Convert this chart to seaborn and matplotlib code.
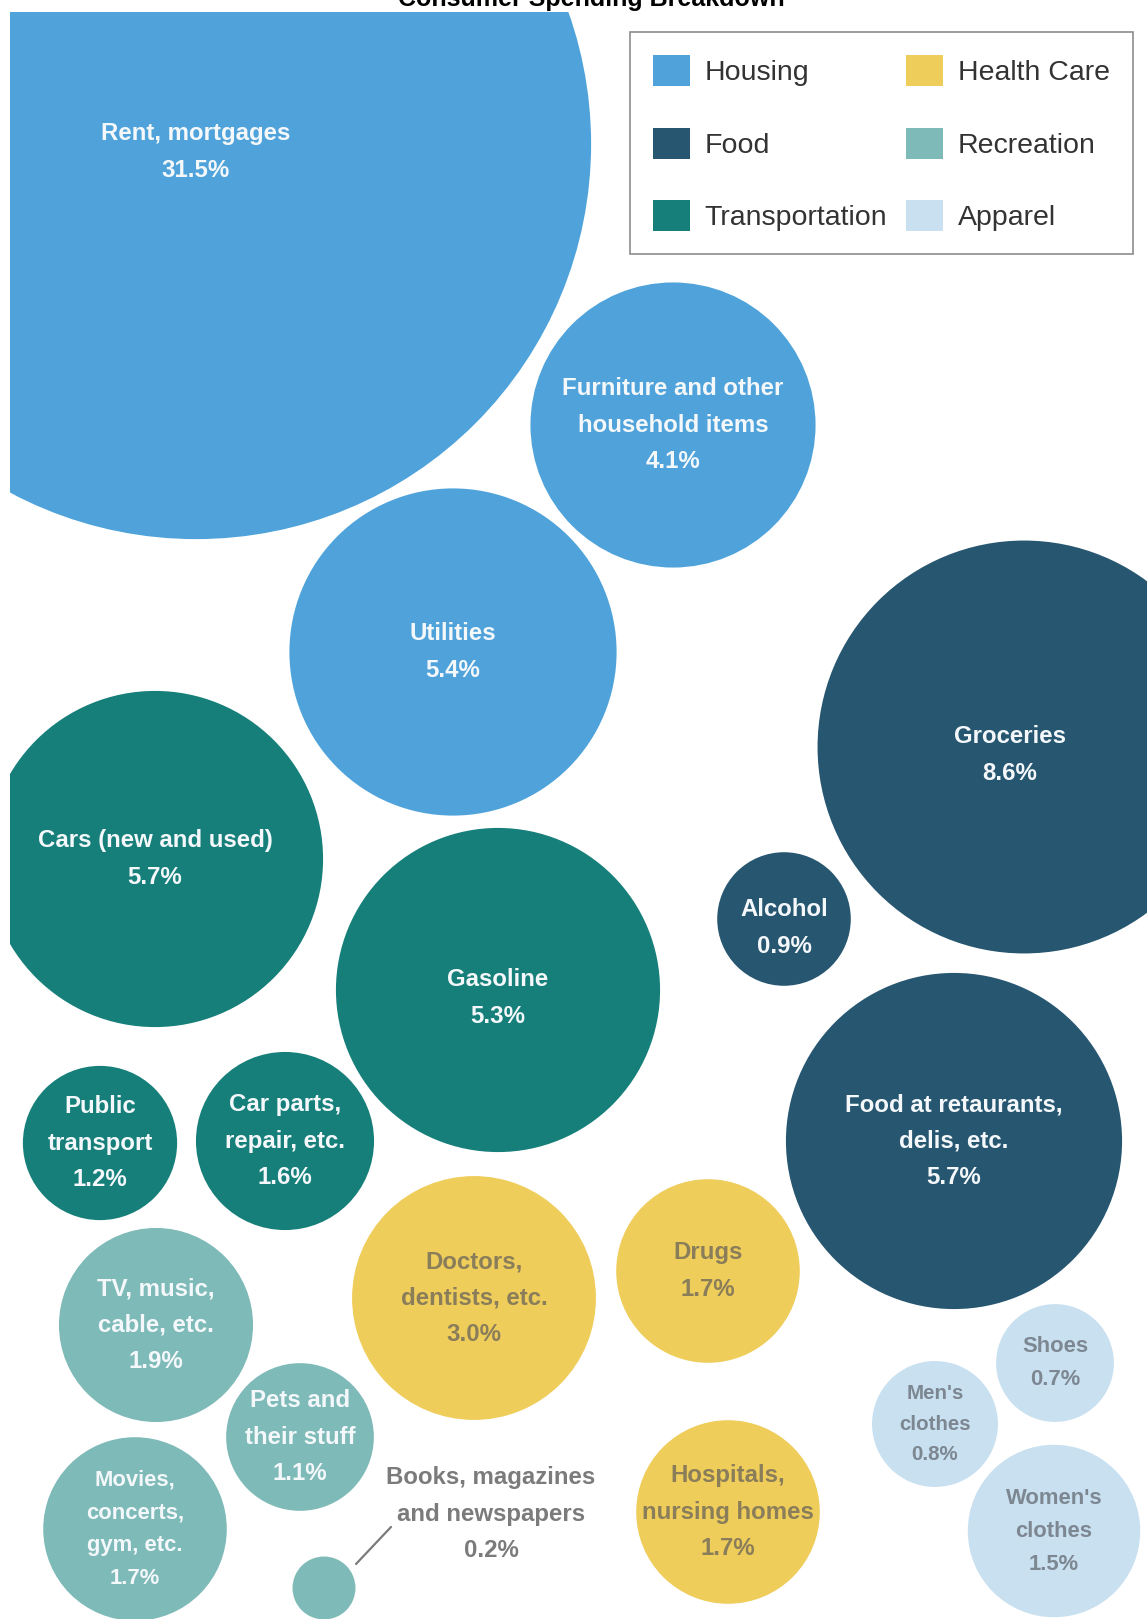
import numpy as np
import pandas as pd
import matplotlib
matplotlib.use("Agg")
import matplotlib.pyplot as plt
from matplotlib.patches import Patch
import seaborn as sns

# --- data ---
labels = ["Rent, mortgages", "Furniture and other\nhousehold items", "Utilities",
          "Groceries", "Alcohol", "Food at retaurants,\ndelis, etc.",
          "Cars (new and used)", "Gasoline", "Public\ntransport", "Car parts,\nrepair, etc.",
          "Doctors,\ndentists, etc.", "Drugs", "TV, music,\ncable, etc.", "Pets and\ntheir stuff",
          "Movies,\nconcerts,\ngym, etc.", "Books, magazines\nand newspapers",
          "Hospitals,\nnursing homes", "Shoes", "Men's\nclothes", "Women's\nclothes"]
values = [31.5, 4.1, 5.4, 8.6, 0.9, 5.7, 5.7, 5.3, 1.2, 1.6,
          3.0, 1.7, 1.9, 1.1, 1.7, 0.2, 1.7, 0.7, 0.8, 1.5]
groups = ["Housing", "Housing", "Housing", "Food", "Food", "Food",
          "Transportation", "Transportation", "Transportation", "Transportation",
          "Health Care", "Health Care", "Recreation", "Recreation", "Recreation", "Recreation",
          "Health Care", "Apparel", "Apparel", "Apparel"]
group_order = ["Housing", "Food", "Transportation", "Health Care", "Recreation", "Apparel"]

# bubble layout (pixel positions of bubble centres)
pos_x = [196, 673, 453, 1024, 784, 954, 155, 498, 100, 285,
         474, 708, 156, 300, 135, 324, 728, 1055, 935, 1054]
pos_y = [144, 425, 652, 747, 919, 1141, 859, 990, 1143, 1141,
         1298, 1271, 1325, 1437, 1529, 1588, 1512, 1363, 1424, 1531]

palette = {"Housing": "#4fa3da", "Food": "#275670", "Transportation": "#167f7a",
           "Health Care": "#efcd5b", "Recreation": "#7ebab8", "Apparel": "#c8e0f0"}
text_col = {"Housing": "#f4f8fb", "Food": "#f4f8fb", "Transportation": "#f4f8fb",
            "Health Care": "#8a7d5a", "Recreation": "#f4f8fb", "Apparel": "#7d8791"}

df = pd.DataFrame({"label": labels, "value": values, "group": groups,
                   "x": pos_x, "y": pos_y})

W, H, DPI = 1147, 1619, 100
k = 70.4  # px radius per sqrt(percent)
radius = k * np.sqrt(df["value"])
sizes = (2 * radius * 72 / DPI) ** 2

sns.set_theme(style="white")
plt.rcParams['font.family'] = ['Liberation Sans', 'DejaVu Sans']

fig = plt.figure(figsize=(W / DPI, H / DPI), dpi=DPI)
ax = fig.add_axes([10 / W, 0, (W - 10) / W, (H - 12) / H])
sns.scatterplot(data=df, x="x", y="y", hue="group", palette=palette, s=sizes,
                linewidth=0, legend=False, ax=ax)
ax.set_xlim(10, W)
ax.set_ylim(H, 12)
ax.set_axis_off()

# label tweaks
dy = {"Rent, mortgages": 8, "Groceries": 8, "Alcohol": 9, "Gasoline": 8}
dx = {"Groceries": -14}
small = {"Movies,\nconcerts,\ngym, etc.": 15.8, "Shoes": 15.8,
         "Women's\nclothes": 15.8, "Men's\nclothes": 14.8}

for _, r in df.iterrows():
    txt = f"{r['label']}\n{r['value']:.1f}%"
    if r["label"].startswith("Books"):
        ax.text(491, 1514, txt, ha="center", va="center", fontsize=17.3,
                fontweight="bold", color="#7b7b7b", linespacing=1.75)
        ax.plot([356, 391], [1564, 1527], color="#7b7b7b", lw=1.6)
        continue
    ax.text(r["x"] + dx.get(r["label"], 0), r["y"] + dy.get(r["label"], 0), txt,
            ha="center", va="center", fontsize=small.get(r["label"], 17.3),
            fontweight="bold", color=text_col[r["group"]], linespacing=1.75)

handles = [Patch(facecolor=palette[g], edgecolor="none", label=g) for g in group_order]
leg = ax.legend(handles=handles, ncol=2, loc="upper right",
                bbox_to_anchor=(1133 / W, 1 - 32 / H), bbox_transform=fig.transFigure,
                frameon=True, fancybox=False, edgecolor="#8c8c8c", framealpha=1,
                fontsize=20.5, handlelength=1.3, handleheight=1.3, handletextpad=0.5,
                columnspacing=0.67, labelspacing=1.45, borderpad=0.82, borderaxespad=0)
leg.get_frame().set_linewidth(1.2)
for t in leg.get_texts():
    t.set_color("#333333")

fig.text(591 / W, 1 - 6 / H, "Consumer Spending Breakdown", ha="center", va="baseline",
         fontsize=18, fontweight="bold", color="black")

fig.savefig("out.png", dpi=DPI)
